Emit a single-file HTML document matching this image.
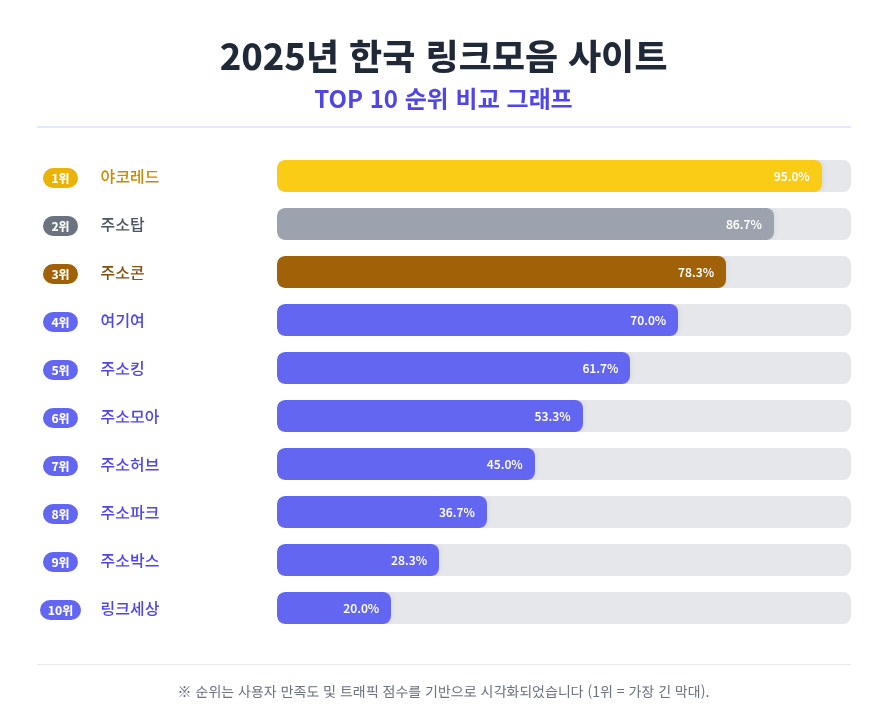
<!DOCTYPE html>
<html lang="ko">
<head>
<meta charset="utf-8">
<title>2025년 한국 링크모음 사이트 TOP 10 순위 비교 그래프</title>
<style>
  * { box-sizing: border-box; }
  html, body { margin: 0; padding: 0; background: #ffffff; }
  body {
    width: 886px;
    font-family: "Noto Sans KR", "Noto Sans CJK KR", "Liberation Sans", "NanumGothic", sans-serif;
    color: #1f2937;
  }
  .wrap { width: 814px; margin: 0 0 0 36.5px; padding-top: 28px; }
  header { text-align: center; border-bottom: 2px solid #e0e7ff; height: 100px; }
  h1 { margin: 0; font-size: 36px; line-height: 52px; font-weight: 800; color: #1f2937; letter-spacing: 0; }
  h2 { margin: 0; font-size: 24px; line-height: 36px; font-weight: 700; color: #4f46e5; }
  .chart { margin-top: 24px; }
  .row { display: flex; align-items: center; height: 48px; }
  .rank { width: 48px; display: flex; justify-content: center; }
  .badge { display: block; margin-top: 4px; min-width: 35px; height: 20px; line-height: 20px; padding: 0 8px; border-radius: 10px; color: #fff; font-size: 12px; font-weight: 800; text-align: center; background: #6366f1; }
  .name { width: 176px; margin-left: 16px; font-size: 16px; font-weight: 500; color: #4f46e5; }
  .track { width: 574px; flex: none; height: 32px; background: #e5e7eb; border-radius: 8px; overflow: hidden; position: relative; }
  .fill { height: 100%; border-radius: 8px; background: #6366f1; display: flex; align-items: center; justify-content: flex-end; padding-right: 12px; padding-bottom: 2px; color: #fff; font-size: 12px; font-weight: 600; box-shadow: 2px 0 5px rgba(0,0,0,0.05); }
  .gold .badge { background: #eab308; } .gold .name { color: #ca8a04; } .gold .fill { background: #facc15; }
  .silver .badge { background: #6b7280; } .silver .name { color: #4b5563; } .silver .fill { background: #9ca3af; }
  .bronze .badge { background: #a16207; } .bronze .name { color: #854d0e; } .bronze .fill { background: #a16207; }
  footer { margin-top: 32px; border-top: 1px solid #e5e7eb; text-align: center; font-size: 14px; color: #6b7280; padding-top: 16px; line-height: 21px; }
</style>
</head>
<body>
<div class="wrap">
  <header>
    <h1>2025년 한국 링크모음 사이트</h1>
    <h2>TOP 10 순위 비교 그래프</h2>
  </header>
  <div class="chart">
    <div class="row gold"><div class="rank"><span class="badge">1위</span></div><div class="name">야코레드</div><div class="track"><div class="fill" style="width:95%">95.0%</div></div></div>
    <div class="row silver"><div class="rank"><span class="badge">2위</span></div><div class="name">주소탑</div><div class="track"><div class="fill" style="width:86.6667%">86.7%</div></div></div>
    <div class="row bronze"><div class="rank"><span class="badge">3위</span></div><div class="name">주소콘</div><div class="track"><div class="fill" style="width:78.3333%">78.3%</div></div></div>
    <div class="row"><div class="rank"><span class="badge">4위</span></div><div class="name">여기여</div><div class="track"><div class="fill" style="width:70%">70.0%</div></div></div>
    <div class="row"><div class="rank"><span class="badge">5위</span></div><div class="name">주소킹</div><div class="track"><div class="fill" style="width:61.6667%">61.7%</div></div></div>
    <div class="row"><div class="rank"><span class="badge">6위</span></div><div class="name">주소모아</div><div class="track"><div class="fill" style="width:53.3333%">53.3%</div></div></div>
    <div class="row"><div class="rank"><span class="badge">7위</span></div><div class="name">주소허브</div><div class="track"><div class="fill" style="width:45%">45.0%</div></div></div>
    <div class="row"><div class="rank"><span class="badge">8위</span></div><div class="name">주소파크</div><div class="track"><div class="fill" style="width:36.6667%">36.7%</div></div></div>
    <div class="row"><div class="rank"><span class="badge">9위</span></div><div class="name">주소박스</div><div class="track"><div class="fill" style="width:28.3333%">28.3%</div></div></div>
    <div class="row"><div class="rank"><span class="badge">10위</span></div><div class="name">링크세상</div><div class="track"><div class="fill" style="width:20%">20.0%</div></div></div>
  </div>
  <footer>※ 순위는 사용자 만족도 및 트래픽 점수를 기반으로 시각화되었습니다 (1위 = 가장 긴 막대).</footer>
</div>
</body>
</html>
